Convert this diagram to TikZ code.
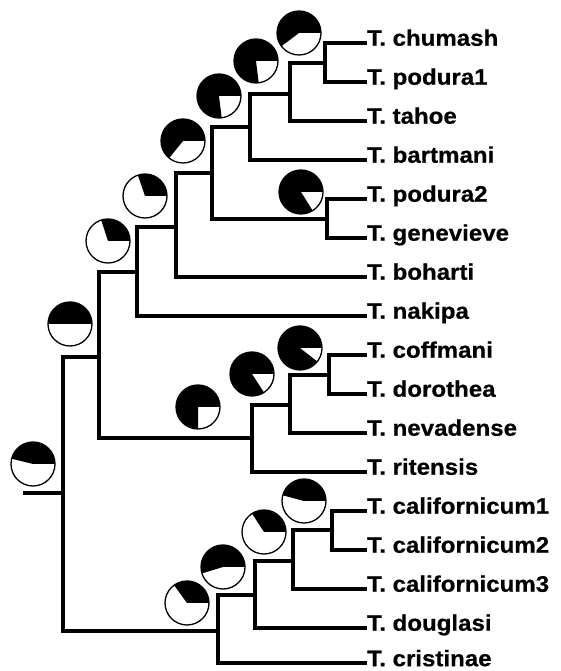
\documentclass[tikz,border=0pt]{standalone}
\usepackage{fontspec}
\setmainfont{Liberation Sans}[FakeStretch=1.07]
\newfontfamily\labfont{Liberation Sans Bold}[FakeStretch=1.07,FakeBold=0.6]
\newcommand{\pierad}{22}
\newcommand{\drawpie}[4]{%
  \fill[black] (#2,#3) -- ++(0:\pierad) arc[start angle=0,end angle=#4,radius=\pierad] -- cycle;
  \node[pie] (#1) at (#2,#3) {};}
\begin{document}
\begin{tikzpicture}[x=1pt,y=1pt,
  branch/.style={line width=4pt, line join=miter},
  leaf/.style={anchor=west, inner sep=0pt, text height=16pt, text depth=10.5pt,
    font=\fontsize{22.5}{27}\labfont},
  lastleaf/.style={leaf, text height=8pt, text depth=1.6pt},
  pie/.style={circle, draw=black, line width=1.3pt, minimum size=44pt, inner sep=0pt}]
\useasboundingbox (0,0) rectangle (561,671);

% leaves
\node[leaf] (chumash)   at (367,628) {T. chumash};
\node[leaf] (podura1)   at (367,589) {T. podura1};
\node[leaf] (tahoe)     at (367,550) {T. tahoe};
\node[leaf] (bartmani)  at (367,511) {T. bartmani};
\node[leaf] (podura2)   at (367,472) {T. podura2};
\node[leaf] (genevieve) at (367,433) {T. genevieve};
\node[leaf] (boharti)   at (367,394) {T. boharti};
\node[leaf] (nakipa)    at (367,355) {T. nakipa};
\node[leaf] (coffmani)  at (367,316) {T. coffmani};
\node[leaf] (dorothea)  at (367,277) {T. dorothea};
\node[leaf] (nevadense) at (367,238) {T. nevadense};
\node[leaf] (ritensis)  at (367,199) {T. ritensis};
\node[leaf] (cal1)      at (367,160) {T. californicum1};
\node[leaf] (cal2)      at (367,121) {T. californicum2};
\node[leaf] (cal3)      at (367,82)  {T. californicum3};
\node[leaf] (douglasi)  at (367,43)  {T. douglasi};
\node[lastleaf] (cristinae) at (367,8) {T. cristinae};

% internal nodes
\coordinate (n1) at (325,608);
\coordinate (n2) at (290,577);
\coordinate (n3) at (250,544);
\coordinate (n4) at (327,452);
\coordinate (n5) at (212,498);
\coordinate (n6) at (176,444);
\coordinate (n7) at (137,399);
\coordinate (n9) at (329,296);
\coordinate (n10) at (290,266);
\coordinate (n11) at (252,233);
\coordinate (n8) at (99,314);
\coordinate (n12) at (332,141);
\coordinate (n13) at (293,110);
\coordinate (n14) at (255,76);
\coordinate (n15) at (218,40);
\coordinate (root) at (63,178);
\coordinate (rootstub) at (23,178);

% branches
\draw[branch] (chumash.west) -| (n1) |- (podura1.west);
\draw[branch] (n1) -| (n2) |- (tahoe.west);
\draw[branch] (n2) -| (n3) |- (bartmani.west);
\draw[branch] (podura2.west) -| (n4) |- (genevieve.west);
\draw[branch] (n3) -| (n5) |- (n4);
\draw[branch] (n5) -| (n6) |- (boharti.west);
\draw[branch] (n6) -| (n7) |- (nakipa.west);
\draw[branch] (coffmani.west) -| (n9) |- (dorothea.west);
\draw[branch] (n9) -| (n10) |- (nevadense.west);
\draw[branch] (n10) -| (n11) |- (ritensis.west);
\draw[branch] (n7) -| (n8) |- (n11);
\draw[branch] (cal1.west) -| (n12) |- (cal2.west);
\draw[branch] (n12) -| (n13) |- (cal3.west);
\draw[branch] (n13) -| (n14) |- (douglasi.west);
\draw[branch] (n14) -| (n15) |- (cristinae.west);
\draw[branch] (n8) -| (root) |- (n15);
\draw[branch] (rootstub) -- (root);

% pies
\drawpie{p1}{299}{638}{217}
\drawpie{p2}{256}{610}{277}
\drawpie{p3}{219}{575}{277}
\drawpie{p4}{301}{479}{302}
\drawpie{p5}{183}{530}{231}
\drawpie{p6}{145}{475}{109}
\drawpie{p7}{108}{430}{108}
\drawpie{p8}{70}{347}{180}
\drawpie{p9}{300}{323}{322}
\drawpie{p10}{252}{297}{303}
\drawpie{p11}{198}{264}{270}
\drawpie{p12}{304}{170}{165}
\drawpie{p13}{264}{139}{123}
\drawpie{p14}{223}{104}{197}
\drawpie{p15}{187}{68}{126}
\drawpie{proot}{33}{207}{166}
\end{tikzpicture}
\end{document}
